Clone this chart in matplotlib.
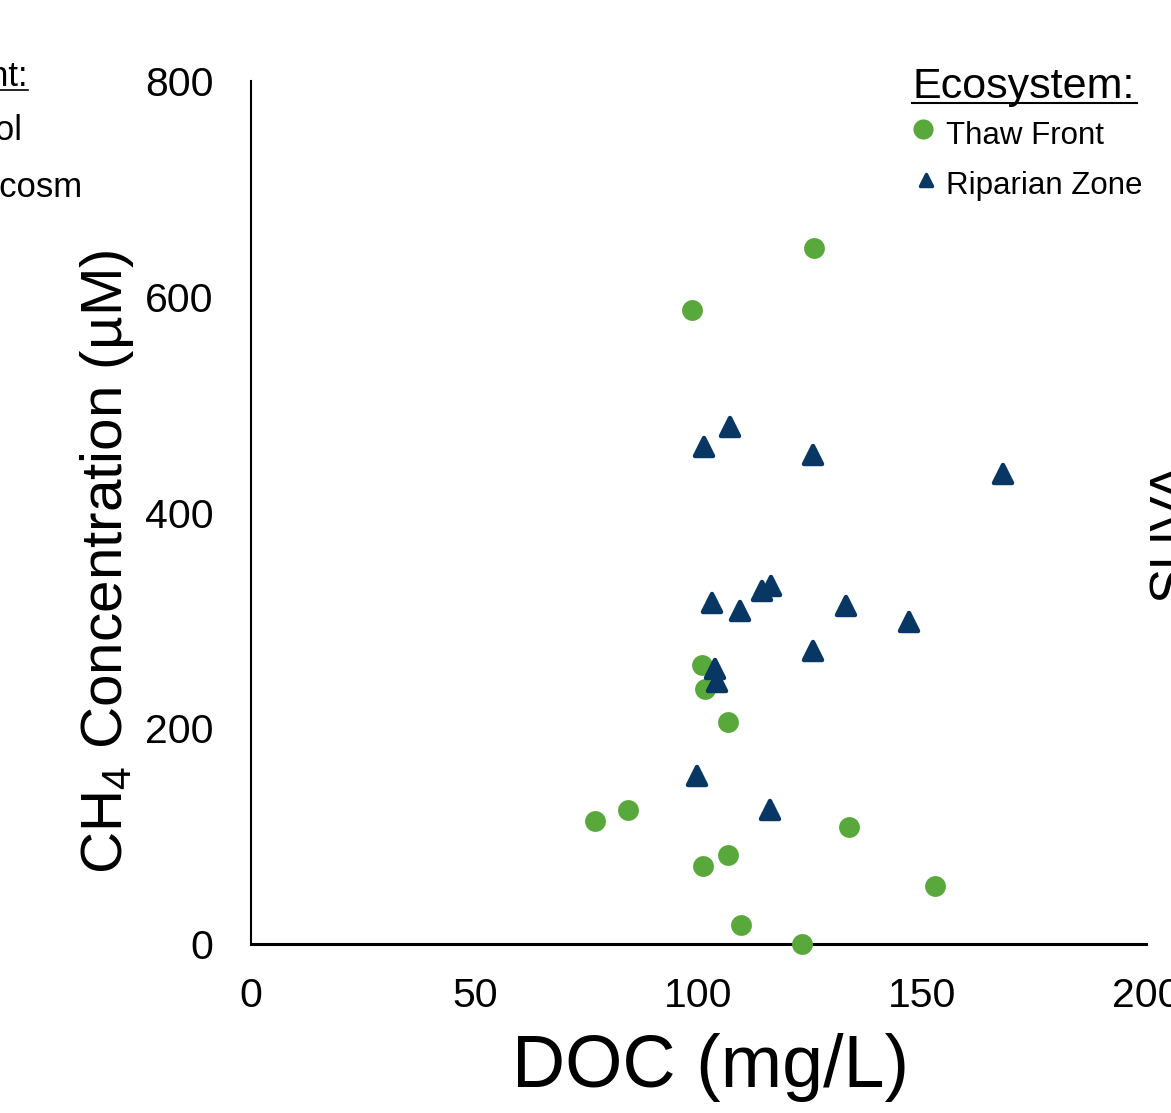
import matplotlib
matplotlib.use("Agg")
import matplotlib.pyplot as plt
from matplotlib.lines import Line2D
from matplotlib.markers import MarkerStyle

# DOC (mg/L) and CH4 (uM)
thaw_doc = [125.8, 98.5, 100.8, 101.5, 106.6, 76.9, 84.3, 133.6, 106.7, 101.0, 152.8, 109.5, 123.1]
thaw_ch4 = [645.2, 587.7, 258.6, 236.4, 205.8, 114.4, 123.9, 108.5, 82.8, 72.6, 53.8, 17.6, 0.0]

rip_doc = [101.2, 107.1, 125.5, 168.0, 103.1, 109.2, 114.3, 116.2, 133.0, 147.1, 125.6,
           103.6, 104.1, 99.7, 115.9]
rip_ch4 = [460.9, 479.0, 453.3, 435.7, 316.4, 309.0, 327.5, 332.2, 313.3, 298.8, 271.9,
           254.9, 242.6, 156.0, 124.5]

x_ticks = [0, 50, 100, 150, 200]
y_ticks = [0, 200, 400, 600, 800]

GREEN = "#58a83c"
NAVY = "#083763"
W, H = 1171, 1113

plt.rcParams["font.family"] = ["Liberation Sans", "DejaVu Sans"]
plt.rcParams["mathtext.fontset"] = "custom"
plt.rcParams["mathtext.rm"] = "Liberation Sans"

fig = plt.figure(figsize=(W / 100, H / 100), dpi=100)
ax = fig.add_axes([251 / W, 1 - 944 / H, (1146 - 251) / W, (944 - 81) / H])

tri = MarkerStyle("^", joinstyle="round")
ax.plot(thaw_doc, thaw_ch4, linestyle="none", marker="o", markersize=15,
        markerfacecolor=GREEN, markeredgewidth=0, clip_on=False, zorder=3)
ax.plot(rip_doc, rip_ch4, linestyle="none", marker=tri, markersize=12.5,
        markerfacecolor=NAVY, markeredgecolor=NAVY, markeredgewidth=3.2,
        clip_on=False, zorder=4)

ax.set_xlim(0, 200)
ax.set_ylim(0, 800)
ax.set_xticks(x_ticks)
ax.set_yticks(y_ticks)
ax.tick_params(axis="both", length=0, labelsize=29.5)
ax.tick_params(axis="y", pad=27)
ax.tick_params(axis="x", pad=24)
for s in ("top", "right"):
    ax.spines[s].set_visible(False)
ax.spines["left"].set_linewidth(1.5)
ax.spines["bottom"].set_linewidth(2.2)

fig.text(711 / W, 1 - 1087 / H, "DOC (mg/L)", ha="center", va="baseline", fontsize=53)
fig.text(122 / W, 1 - 562 / H, r"CH$\mathregular{_4}$ Concentration (µM)", rotation=90,
         rotation_mode="anchor", ha="center", va="baseline", fontsize=42)

# legend
fig.text(912 / W, 1 - 98 / H, "Ecosystem:", ha="left", va="baseline", fontsize=31)
fig.add_artist(Line2D([912 / W, 1137 / W], [1 - 103 / H, 1 - 103 / H], color="black", lw=1.5))
fig.text(946 / W, 1 - 144 / H, "Thaw Front", ha="left", va="baseline", fontsize=22.5)
fig.text(946 / W, 1 - 194 / H, "Riparian Zone", ha="left", va="baseline", fontsize=22.5)
fig.add_artist(Line2D([923 / W], [1 - 129 / H], marker="o", markersize=14.5,
                      markerfacecolor=GREEN, markeredgewidth=0, linestyle="none"))
fig.add_artist(Line2D([926 / W], [1 - 180 / H], marker=tri, markersize=9,
                      markerfacecolor=NAVY, markeredgecolor=NAVY, markeredgewidth=2.5,
                      linestyle="none"))

# neighbouring panels, cut off at the edges
fig.text(28 / W, 1 - 86 / H, "Treatment:", ha="right", va="baseline", fontsize=25)
fig.add_artist(Line2D([0, 28 / W], [1 - 90 / H, 1 - 90 / H], color="black", lw=1.2))
fig.text(22 / W, 1 - 140 / H, "Control", ha="right", va="baseline", fontsize=25)
fig.text(82 / W, 1 - 197 / H, "Microcosm", ha="right", va="baseline", fontsize=25)
fig.text(1147 / W, 1 - 531 / H, "SUVA", rotation=90, ha="left", va="center", fontsize=38)

fig.savefig("out.png", dpi=100)
